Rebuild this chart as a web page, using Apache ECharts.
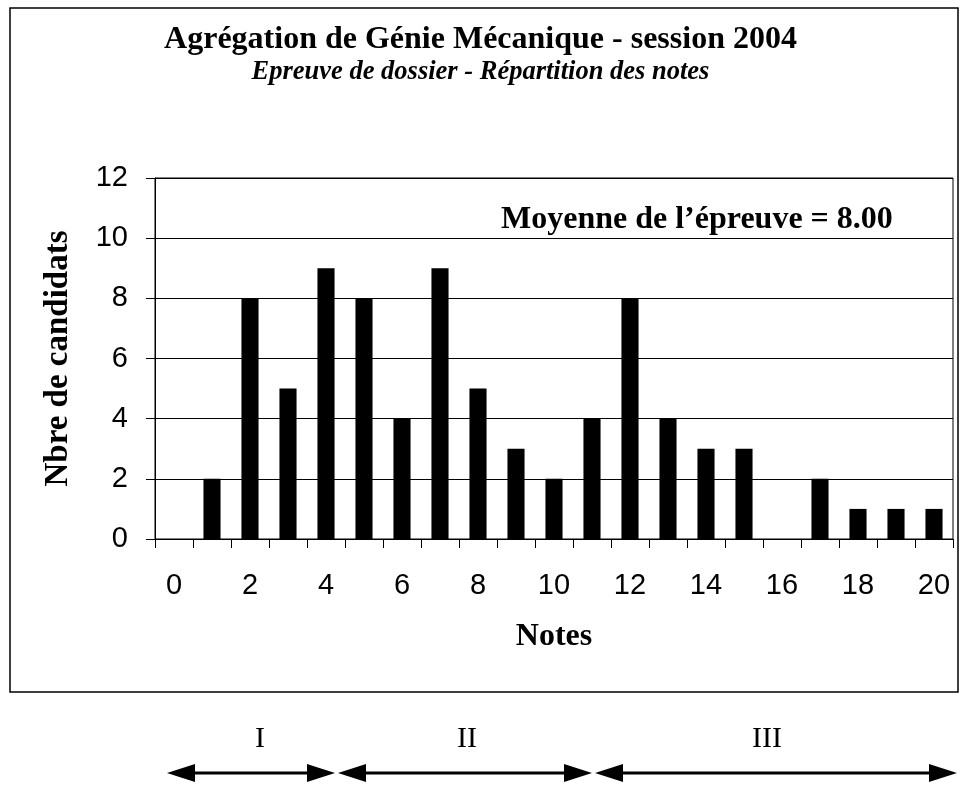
<!DOCTYPE html>
<html>
<head>
<meta charset="utf-8">
<script src="https://cdn.jsdelivr.net/npm/echarts@6/dist/echarts.min.js"></script>
<style>
  html, body { margin: 0; padding: 0; background: #fff; }
  #chart { width: 961px; height: 788px; }
</style>
</head>
<body>
<div id="chart"></div>
<script>
// notes 0..20 and number of candidates per note
const notes = ['0', '1', '2', '3', '4', '5', '6', '7', '8', '9', '10',
  '11', '12', '13', '14', '15', '16', '17', '18', '19', '20']
const candidats = [0, 2, 8, 5, 9, 8, 4, 9, 5, 3, 2, 4, 8, 4, 3, 3, 0, 2, 1, 1, 1]
const yTicks = [0, 2, 4, 6, 8, 10, 12]
const groupLabels = ['I', 'II', 'III']

const serif = '"Liberation Serif", "Times New Roman", serif'
const sans = '"Liberation Sans", Arial, sans-serif'

// arrow layout under the chart: [x1, x2, labelX]
const arrowLayout = [
  [167, 335, 260],
  [338, 592, 467],
  [595, 957, 767],
]
const arrowY = 773
const headLen = 28
const headHalf = 9

const graphics = [
  {
    type: 'rect',
    shape: { x: 10, y: 8, width: 948, height: 684 },
    style: { fill: 'none', stroke: '#000', lineWidth: 1.5 },
    silent: true,
    z: -1,
  },
]
arrowLayout.forEach(([x1, x2, lx], i) => {
  graphics.push({
    type: 'line',
    shape: { x1: x1 + headLen - 2, y1: arrowY, x2: x2 - headLen + 2, y2: arrowY },
    style: { stroke: '#000', lineWidth: 3 },
  })
  graphics.push({
    type: 'polygon',
    shape: { points: [[x1, arrowY], [x1 + headLen, arrowY - headHalf], [x1 + headLen, arrowY + headHalf]] },
    style: { fill: '#000' },
  })
  graphics.push({
    type: 'polygon',
    shape: { points: [[x2, arrowY], [x2 - headLen, arrowY - headHalf], [x2 - headLen, arrowY + headHalf]] },
    style: { fill: '#000' },
  })
  graphics.push({
    type: 'text',
    x: lx,
    y: 724,
    style: {
      text: groupLabels[i],
      font: '30px ' + serif,
      fill: '#000',
      textAlign: 'center',
      textVerticalAlign: 'top',
    },
  })
})

const chart = echarts.init(document.getElementById('chart'), null, { renderer: 'canvas' })

chart.setOption({
  animation: false,
  backgroundColor: '#fff',
  title: [
    {
      text: 'Agrégation de Génie Mécanique - session 2004',
      subtext: 'Epreuve de dossier - Répartition des notes',
      left: 'center',
      top: 24,
      padding: 0,
      itemGap: 3,
      textStyle: { fontFamily: serif, fontSize: 32, fontWeight: 'bold', color: '#000' },
      subtextStyle: { fontFamily: serif, fontSize: 26.5, fontWeight: 'bold', fontStyle: 'italic', color: '#000' },
    },
    {
      text: 'Moyenne de l’épreuve = 8.00',
      left: 501,
      top: 204,
      padding: 0,
      textStyle: { fontFamily: serif, fontSize: 32, fontWeight: 'bold', color: '#000' },
    },
  ],
  grid: {
    left: 155,
    top: 178,
    right: 8,
    bottom: 249,
    show: true,
    borderColor: '#000',
    borderWidth: 1,
    backgroundColor: 'transparent',
  },
  xAxis: {
    type: 'category',
    data: notes,
    boundaryGap: true,
    name: 'Notes',
    nameLocation: 'middle',
    nameGap: 82,
    nameTextStyle: { fontFamily: serif, fontSize: 32, fontWeight: 'bold', color: '#000' },
    axisLine: { lineStyle: { color: '#000', width: 1 } },
    axisTick: { show: true, interval: 0, length: 9, lineStyle: { color: '#000' } },
    axisLabel: { interval: 1, margin: 32, fontFamily: sans, fontSize: 29, color: '#000' },
    splitLine: { show: false },
  },
  yAxis: {
    type: 'value',
    min: yTicks[0],
    max: yTicks[yTicks.length - 1],
    interval: 2,
    name: 'Nbre de candidats',
    nameLocation: 'middle',
    nameGap: 80,
    nameTextStyle: { fontFamily: serif, fontSize: 33, fontWeight: 'bold', color: '#000' },
    axisLine: { show: true, lineStyle: { color: '#000', width: 1 } },
    axisTick: { show: true, length: 9, lineStyle: { color: '#000' } },
    axisLabel: { margin: 27, fontFamily: sans, fontSize: 29, color: '#000' },
    splitLine: { show: true, lineStyle: { color: '#000', width: 1 } },
  },
  series: [
    {
      type: 'bar',
      data: candidats,
      barWidth: '45%',
      itemStyle: { color: '#000' },
      emphasis: { disabled: true },
    },
  ],
  graphic: graphics,
})
</script>
</body>
</html>
